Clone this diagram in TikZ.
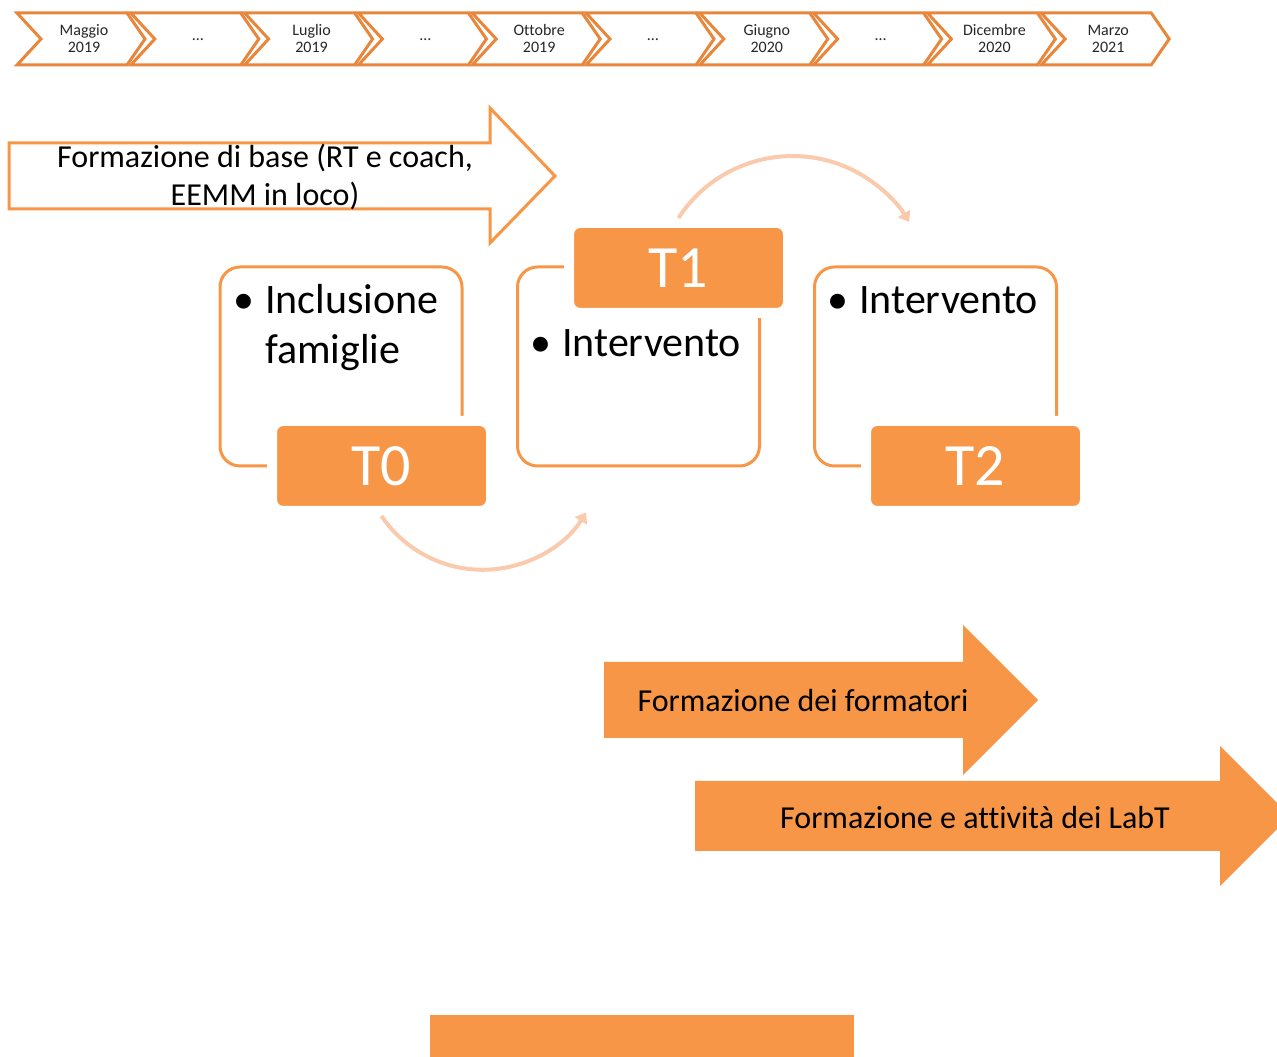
\documentclass[tikz,border=0pt]{standalone}
\usepackage{fontspec}
\setmainfont{Carlito}[Ligatures=CommonOff]
\usetikzlibrary{arrows.meta}
\definecolor{accent}{RGB}{247,150,70}
\definecolor{rim}{RGB}{232,135,60}
\definecolor{pale}{RGB}{250,202,172}
\begin{document}
\begin{tikzpicture}[x=1pt,y=1pt,every node/.style={inner sep=0pt},
  month/.style={align=center,font=\fontsize{16}{17}\selectfont,text=black!85},
  chev/.style={draw=rim,line width=3pt,line join=miter},
  frame/.style={draw=accent,line width=3pt,rounded corners=20pt,minimum width=242pt,minimum height=199pt},
  tag/.style={fill=accent,draw=white,line width=10pt,rounded corners=11pt,minimum width=219pt,minimum height=90pt,text=white,font=\fontsize{60}{60}\selectfont},
  item/.style={anchor=base west,align=left,font=\fontsize{42}{50}\selectfont},
  big/.style={font=\fontsize{32}{38}\selectfont},
  cyc/.style={draw=pale,line width=4pt,-{Triangle[length=10pt,width=14pt]}}]
\useasboundingbox (0,0) rectangle (1277,1057);
% timeline
\foreach \lab [count=\i from 0] in {{Maggio\\2019},{\raisebox{-3pt}{\ldots}},{Luglio\\2019},{\raisebox{-3pt}{\ldots}},{Ottobre\\2019},{\raisebox{-3pt}{\ldots}},{Giugno\\2020},{\raisebox{-3pt}{\ldots}},{Dicembre\\2020},{Marzo\\2021}} {
  \pgfmathsetmacro\xo{17+113.8*\i}
  \draw[chev] (\xo,1044) -- ++(110,0) -- ++(18,-26) -- ++(-18,-26) -- ++(-110,0) -- ++(24,26) -- cycle;
  \node[month] (tl\i) at (\xo+67,1018) {\lab};
}
% formazione di base
\draw[accent,line width=3pt] (9,914) -- (490,914) -- (490,949) -- (555,881) -- (490,814) -- (490,848) -- (9,848) -- cycle;
\node[big,align=center] (base) at (265,880) {Formazione di base (RT e coach,\\EEMM in loco)};
% fasi
\node[frame] (b1) at (341,690.5) {};
\node[frame] (b2) at (638.5,690.5) {};
\node[frame] (b3) at (935.5,690.5) {};
\node[item] (i1) at (233,693) {\makebox[32pt][l]{•}Inclusione\\\hspace*{32pt}famiglie};
\node[item] (i2) at (530,700) {\makebox[32pt][l]{•}Intervento};
\node[item] (i3) at (827,743) {\makebox[32pt][l]{•}Intervento};
\node[tag] (t0) at (381.5,591) {T0};
\node[tag] (t1) at (678.5,789) {T1};
\node[tag] (t2) at (975.5,591) {T2};
\draw[cyc] (t0.south) arc[start angle=214,end angle=328,radius=122];
\draw[cyc] (t1.north) arc[start angle=147,end angle=31,radius=136];
% formazione formatori e LabT
\fill[accent] (604,395) -- (963,395) -- (963,432) -- (1038,357) -- (963,282) -- (963,319) -- (604,319) -- cycle;
\node[big] (ff) at (803,356) {Formazione dei formatori};
\fill[accent] (695,276) -- (1220,276) -- (1220,311) -- (1290,241) -- (1220,171) -- (1220,206) -- (695,206) -- cycle;
\node[big] (lab) at (975,239) {Formazione e attività dei LabT};
\fill[accent] (430,0) rectangle (854,42);
\end{tikzpicture}
\end{document}
